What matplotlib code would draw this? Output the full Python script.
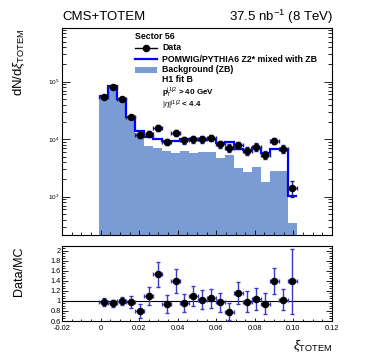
import numpy as np
import matplotlib
matplotlib.use("Agg")
import matplotlib.pyplot as plt
from matplotlib.ticker import MultipleLocator, FixedLocator, FuncFormatter, LogLocator, NullFormatter
from matplotlib.lines import Line2D
from matplotlib.patches import Rectangle

plt.rcParams['font.family'] = ['Liberation Sans', 'DejaVu Sans']
plt.rcParams['mathtext.fontset'] = 'custom'
plt.rcParams['mathtext.rm'] = 'Liberation Sans'
plt.rcParams['mathtext.it'] = 'Liberation Sans:italic'
plt.rcParams['mathtext.bf'] = 'Liberation Sans:bold'

# ---- data ----
xi_first_edge = -0.0008
xi_last_edge = 0.1018
n_bins = 22

data = [54800, 79800, 50100, 24600, 11700, 12200, 15800, 9060, 13000, 9680, 10070,
        9950, 10500, 8260, 7110, 7930, 6240, 7410, 5310, 9420, 6840, 1420]
data_err = [1600, 2400, 1500, 1200, 1400, 1460, 1900, 1180, 1560, 1260, 1310,
            1290, 1370, 1160, 1000, 1110, 940, 1110, 850, 1220, 1030, 430]
mc = [56900, 84100, 50100, 24500, 14060, 10790, 10210, 9310, 9310, 10000, 10000,
      9770, 10000, 8510, 9120, 6890, 6370, 7130, 5750, 6730, 6700, 1020]
background = [56000, 82000, 49500, 23400, 12900, 7710, 6920, 6240, 5830, 6310, 5830,
              5920, 6070, 4760, 5310, 3190, 2650, 3330, 1820, 2800, 2800, 353]
ratio = [0.97, 0.95, 1.00, 0.98, 0.80, 1.09, 1.53, 0.94, 1.40, 0.96, 1.10,
         1.02, 1.05, 0.97, 0.78, 1.15, 0.98, 1.04, 0.94, 1.40, 1.02, 1.39]
ratio_err = [0.08, 0.07, 0.08, 0.12, 0.14, 0.18, 0.25, 0.18, 0.24, 0.18, 0.20,
             0.19, 0.19, 0.19, 0.17, 0.22, 0.21, 0.22, 0.21, 0.26, 0.21, 0.65]

edges = np.linspace(xi_first_edge, xi_last_edge, n_bins + 1)
centers = 0.5 * (edges[:-1] + edges[1:])
halfw = 0.5 * (edges[1:] - edges[:-1])

W, H = 374, 359
fig = plt.figure(figsize=(W / 100, H / 100), dpi=100)

def fx(px):
    return px / W

def fy(py):
    return 1 - py / H

ax = fig.add_axes([fx(62.2), fy(235), fx(331.8) - fx(62.2), fy(28.3) - fy(235)])
axr = fig.add_axes([fx(62.2), fy(321), fx(331.8) - fx(62.2), fy(245.5) - fy(321)])

fill_col = '#7b9bd4'
ax.stairs(background, edges, fill=True, color=fill_col, lw=0)
ax.stairs(mc, edges, baseline=None, color='#0000ff', lw=1.6)
ax.errorbar(centers, data, yerr=data_err, xerr=halfw, fmt='o', color='black',
            ecolor='#1c1c90', elinewidth=1.0, capsize=1.2, capthick=1.0, ms=4.4, zorder=5)
ax.set_yscale('log')
ax.set_xlim(-0.02, 0.12)
ax.set_ylim(216, 849000)
ax.xaxis.set_major_locator(MultipleLocator(0.02))
ax.xaxis.set_minor_locator(MultipleLocator(0.005))
ax.xaxis.set_major_formatter(NullFormatter())
ax.yaxis.set_major_locator(FixedLocator([1e3, 1e4, 1e5]))
ax.yaxis.set_minor_locator(LogLocator(base=10, subs=np.arange(2, 10)))
ax.yaxis.set_minor_formatter(NullFormatter())
ax.yaxis.set_major_formatter(FuncFormatter(lambda v, p: r'$10^{%d}$' % int(round(np.log10(v)))))
ax.tick_params(axis='y', which='major', direction='in', length=5.8, width=0.6, right=True,
               labelsize=4.6, pad=2)
ax.tick_params(axis='y', which='minor', direction='in', length=2.9, width=0.6, right=True)
ax.tick_params(axis='x', which='major', direction='in', length=3.6, width=0.6, top=False)
ax.tick_params(axis='x', which='minor', direction='in', length=2.0, width=0.6, top=False)
for s in ax.spines.values():
    s.set_linewidth(0.8)

axr.errorbar(centers, ratio, yerr=ratio_err, xerr=halfw, fmt='o', color='black',
             ecolor='#3a3ac8', elinewidth=1.0, capsize=1.2, capthick=1.0, ms=4.4, zorder=5)
axr.axhline(1.0, color='black', lw=0.8)
axr.set_xlim(-0.02, 0.12)
axr.set_ylim(0.6, 2.1)
axr.xaxis.set_major_locator(MultipleLocator(0.02))
axr.xaxis.set_minor_locator(MultipleLocator(0.005))
axr.xaxis.set_major_formatter(FuncFormatter(lambda v, p: '0' if abs(v) < 1e-9 else '%.2f' % v))
axr.yaxis.set_major_locator(MultipleLocator(0.2))
axr.yaxis.set_minor_locator(MultipleLocator(0.05))
axr.yaxis.set_major_formatter(FuncFormatter(lambda v, p: '%g' % round(v, 2)))
axr.tick_params(axis='both', which='major', direction='in', labelsize=5.3, width=0.6)
axr.tick_params(axis='y', which='major', length=4.5, right=True, pad=1.2)
axr.tick_params(axis='y', which='minor', length=2.2, right=True, width=0.6, direction='in')
axr.tick_params(axis='x', which='major', length=2.5, pad=3.0)
axr.tick_params(axis='x', which='minor', length=1.4, width=0.6, direction='in')
for s in axr.spines.values():
    s.set_linewidth(0.8)

# header texts
fig.text(fx(62), fy(17), 'CMS+TOTEM', fontsize=9.5, ha='left', va='center')
fig.text(fx(333), fy(17), r'37.5 nb$^{\mathregular{-1}}$ (8 TeV)', fontsize=9.5, ha='right', va='center')

# axis titles
fig.text(fx(19), fy(28), r'dN/d$\xi_{\mathregular{TOTEM}}$', fontsize=9.5, rotation=90,
         ha='center', va='top')
fig.text(fx(19), fy(246), 'Data/MC', fontsize=9.0, rotation=90, ha='center', va='top')
fig.text(fx(333), fy(346), r'$\xi_{\mathregular{TOTEM}}$', fontsize=9.5, ha='right', va='center')

# legend (manual)
lfs = 6.3
fig.text(fx(135), fy(36.7), 'Sector 56', fontsize=lfs, fontweight='bold', ha='left', va='center')
fig.add_artist(Line2D([fx(135), fx(157)], [fy(48), fy(48)], color='black', lw=1.0))
fig.add_artist(Line2D([fx(146)], [fy(48)], marker='o', color='black', ms=4.4))
fig.text(fx(162), fy(48), 'Data', fontsize=lfs, fontweight='bold', ha='left', va='center')
fig.add_artist(Line2D([fx(135), fx(157)], [fy(59), fy(59)], color='#0000ff', lw=1.6))
fig.text(fx(162), fy(59), 'POMWIG/PYTHIA6 Z2* mixed with ZB', fontsize=lfs, fontweight='bold',
         ha='left', va='center')
fig.add_artist(Rectangle((fx(135), fy(73)), fx(157) - fx(135), fy(67) - fy(73),
                         transform=fig.transFigure, color=fill_col, lw=0))
fig.text(fx(162), fy(70), 'Background (ZB)', fontsize=lfs, fontweight='bold', ha='left', va='center')
fig.text(fx(162), fy(80), 'H1 fit B', fontsize=lfs, fontweight='bold', ha='left', va='center')
fig.text(fx(162), fy(93), r'$\mathbf{p}_{\mathrm{T}}^{\mathrm{j1j2}}$ > 40 GeV', fontsize=5.8,
         fontweight='bold', ha='left', va='center')
fig.text(fx(162), fy(105.5), r'$|\eta|^{\mathrm{j1j2}}$ < 4.4', fontsize=5.8,
         fontweight='bold', ha='left', va='center')

fig.savefig('out.png', dpi=100)
